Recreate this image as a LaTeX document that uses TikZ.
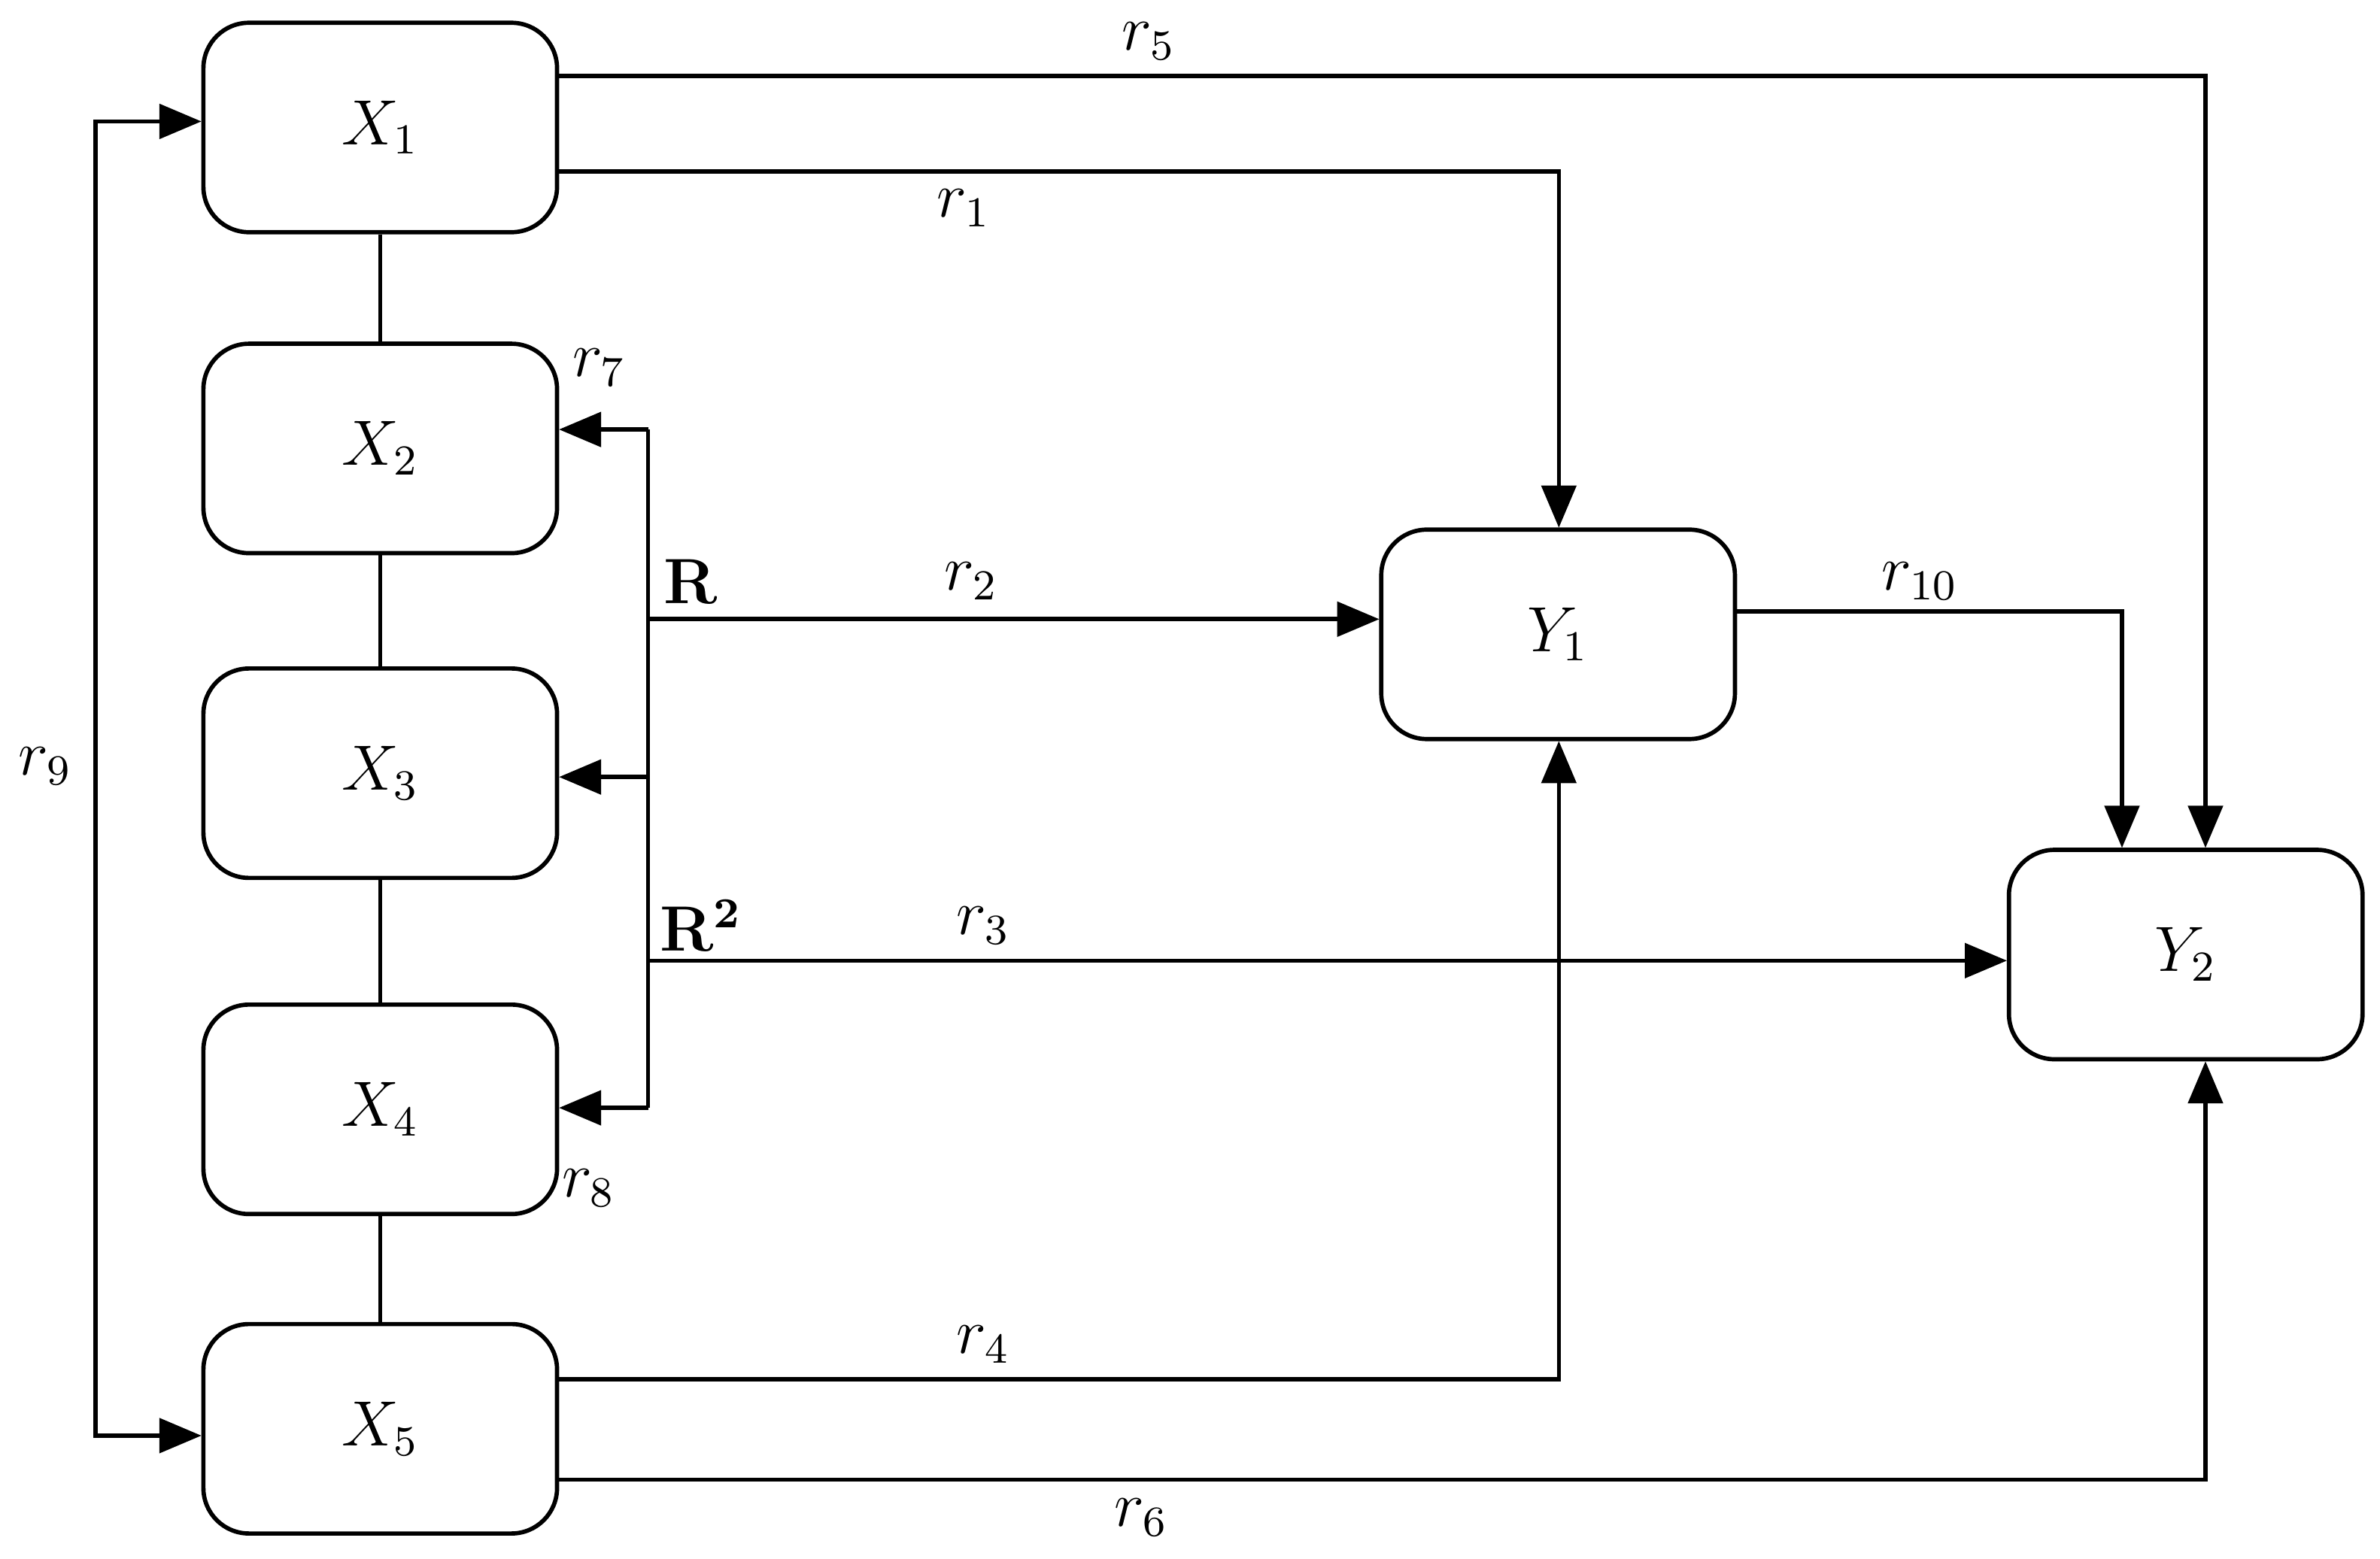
\documentclass[tikz,border=0pt]{standalone}
\usepackage{tikz}
\usetikzlibrary{arrows,positioning,calc}
\begin{document}
\begin{tikzpicture}[x=1cm,y=1cm,font=\large]
            \tikzstyle{block}=[rectangle,rounded corners=0.3cm,minimum width=2.33cm,minimum height=1.38cm,draw,thick]
            \tikzstyle{link}=[thick,-triangle 45]
            \tikzstyle{plain}=[thick]

            \useasboundingbox (0,0) rectangle (15.68,-10.27);

            \node[block] (X1) at (2.505,-0.84) {$X_1$};
            \node[block] (X2) at (2.505,-2.955) {$X_2$};
            \node[block] (X3) at (2.505,-5.095) {$X_3$};
            \node[block] (X4) at (2.505,-7.31) {$X_4$};
            \node[block] (X5) at (2.505,-9.415) {$X_5$};
            \node[block] (Y1) at (10.265,-4.18) {$Y_1$};
            \node[block] (Y2) at (14.4,-6.29) {$Y_2$};

            % chain of X blocks
            \draw[plain] (X1) -- (X2);
            \draw[plain] (X2) -- (X3);
            \draw[plain] (X3) -- (X4);
            \draw[plain] (X4) -- (X5);

            % bends
            \coordinate (b1) at (10.27,-1.13);
            \coordinate (b5) at (14.53,-0.50);
            \coordinate (b10) at (13.98,-4.03);
            \coordinate (b4) at (10.27,-9.09);
            \coordinate (b6) at (14.53,-9.75);
            \coordinate (rtop) at (4.27,-2.83);
            \coordinate (rmid) at (4.27,-5.12);
            \coordinate (rbot) at (4.27,-7.30);
            \coordinate (rR) at (4.27,-4.08);
            \coordinate (rR2) at (4.27,-6.33);
            \coordinate (l1) at (0.63,-0.80);
            \coordinate (l5) at (0.63,-9.46);

            \draw[link] (X1.east |- 0,-0.50) -- (b5) -- (Y2.north -| b5);
            \draw[link] (X1.east |- 0,-1.13) -- (b1) -- (Y1.north -| b1);
            \draw[link] (Y1.east |- b10) -- (b10) -- (Y2.north -| b10);
            \draw[link] (X5.east |- b4) -- (b4) -- (Y1.south -| b4);
            \draw[link] (X5.east |- b6) -- (b6) -- (Y2.south -| b6);

            % R bus
            \draw[plain] (rtop) -- (rbot);
            \draw[link] (rtop) -- (X2.east |- rtop);
            \draw[link] (rmid) -- (X3.east |- rmid);
            \draw[link] (rbot) -- (X4.east |- rbot);
            \draw[link] (rR) -- (Y1.west |- rR);
            \draw[link] (rR2) -- (Y2.west |- rR2);

            % left loop
            \draw[link] (l1) -- (l5) -- (X5.west |- l5);
            \draw[link] (l5) -- (l1) -- (X1.west |- l1);

            \node at (7.57,-0.27) {$r_5$};
            \node at (6.35,-1.37) {$r_1$};
            \node at (3.95,-2.42) {$r_7$};
            \node at (4.55,-3.83) {$\mathbf{R}$};
            \node at (6.40,-3.83) {$r_2$};
            \node at (12.65,-3.83) {$r_{10}$};
            \node at (4.62,-6.10) {$\mathbf{R^2}$};
            \node at (6.48,-6.10) {$r_3$};
            \node at (3.88,-7.83) {$r_8$};
            \node at (6.48,-8.86) {$r_4$};
            \node at (7.52,-10.00) {$r_6$};
            \node at (0.30,-5.05) {$r_9$};
\end{tikzpicture}
\end{document}
